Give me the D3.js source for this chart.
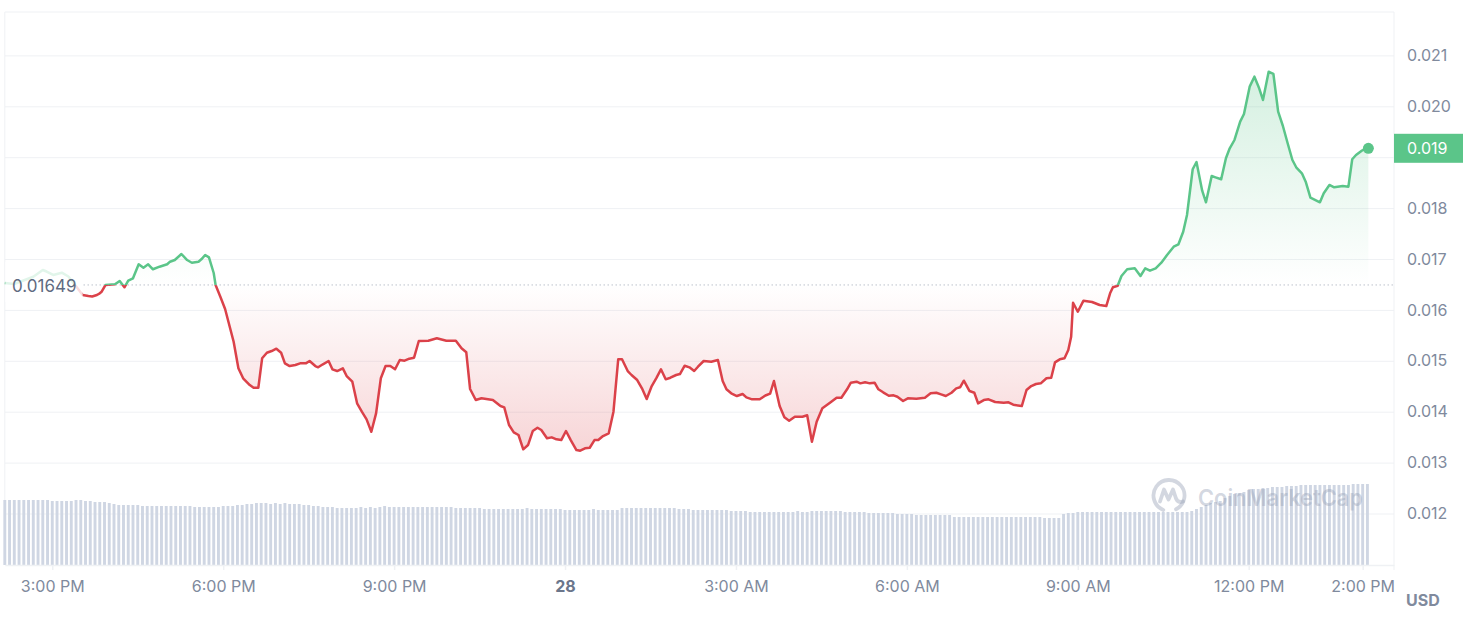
<!DOCTYPE html>
<html><head><meta charset="utf-8">
<script src="https://cdn.jsdelivr.net/npm/d3@7"></script>
<style>html,body{margin:0;padding:0;background:#fff;}svg{display:block;font-family:Inter,"Noto Sans",sans-serif;}</style>
</head><body><svg id="chart" width="1466" height="620"></svg>
<script>
// ---------- data ----------
const startTime = new Date(2024, 2, 27, 14, 10);
const priceMinutes = [0,10,21,30,40,44,51,60,67,74,82,88,92,97,100,102,106,116,121,126,130,135,141,146,151,156,163,171,174,179,186,192,197,204,207,211,215,220,222,227,232,241,246,251,258,262,267,271,276,281,286,291,295,300,306,311,317,321,327,330,335,341,345,350,356,360,366,371,376,381,386,391,396,401,406,411,416,421,426,431,436,446,455,465,475,481,486,490,496,502,514,522,526,531,536,541,546,551,556,561,565,571,576,581,586,591,596,602,606,611,616,621,625,630,636,641,646,650,656,660,666,671,676,681,686,691,696,701,707,711,716,721,726,730,736,744,751,756,760,765,771,777,781,787,795,801,806,810,816,821,826,832,840,845,850,855,861,869,876,881,887,891,897,901,906,911,916,920,925,931,936,940,946,951,960,969,975,981,986,991,997,1002,1006,1010,1016,1021,1025,1031,1036,1043,1052,1057,1062,1071,1076,1081,1086,1091,1097,1102,1106,1111,1116,1120,1123,1125,1130,1136,1145,1153,1160,1164,1167,1172,1176,1182,1190,1196,1201,1206,1212,1218,1224,1231,1236,1241,1245,1251,1255,1261,1265,1271,1275,1281,1286,1290,1295,1301,1305,1311,1316,1321,1325,1331,1336,1341,1346,1351,1356,1360,1366,1370,1375,1385,1389,1395,1400,1409,1415,1419,1423,1429,1436];
const prices = [
0.016528,0.016509,0.016587,0.016652,0.016784,0.016754,0.016686,0.016731,0.016656,0.016489,
0.016293,0.016273,0.016263,0.016293,0.016326,0.016357,0.016489,0.016503,0.016568,0.016444,
0.016574,0.016621,0.016896,0.016829,0.016896,0.016798,0.016849,0.016896,0.016947,0.016980,
0.017098,0.016980,0.016927,0.016947,0.016994,0.017079,0.017033,0.016725,0.016489,0.016259,
0.016018,0.015375,0.014852,0.014656,0.014524,0.014471,0.014471,0.015049,0.015159,0.015192,
0.015237,0.015159,0.014950,0.014897,0.014917,0.014950,0.014950,0.014996,0.014897,0.014872,
0.014931,0.014996,0.014833,0.014799,0.014852,0.014701,0.014589,0.014164,0.014000,0.013850,
0.013606,0.013968,0.014656,0.014897,0.014897,0.014833,0.015015,0.015002,0.015041,0.015061,
0.015389,0.015395,0.015442,0.015395,0.015395,0.015245,0.015167,0.014446,0.014229,0.014263,
0.014229,0.014111,0.014086,0.013738,0.013595,0.013542,0.013261,0.013345,0.013620,0.013685,
0.013640,0.013477,0.013496,0.013457,0.013443,0.013620,0.013443,0.013247,0.013233,0.013280,
0.013292,0.013443,0.013443,0.013522,0.013575,0.014000,0.015029,0.015029,0.014799,0.014721,
0.014622,0.014459,0.014249,0.014491,0.014656,0.014833,0.014636,0.014668,0.014721,0.014740,
0.014903,0.014872,0.014799,0.014884,0.014996,0.014982,0.015015,0.014603,0.014440,0.014361,
0.014308,0.014347,0.014282,0.014243,0.014243,0.014318,0.014357,0.014603,0.014111,0.013889,
0.013823,0.013901,0.013901,0.013929,0.013410,0.013803,0.014066,0.014176,0.014275,0.014275,
0.014440,0.014569,0.014589,0.014557,0.014577,0.014557,0.014569,0.014440,0.014381,0.014314,
0.014322,0.014294,0.014210,0.014263,0.014255,0.014275,0.014361,0.014373,0.014341,0.014308,
0.014373,0.014459,0.014479,0.014609,0.014406,0.014373,0.014164,0.014229,0.014243,0.014190,
0.014176,0.014184,0.014137,0.014111,0.014426,0.014504,0.014544,0.014557,0.014656,0.014668,
0.014970,0.015029,0.015049,0.015212,0.015473,0.016141,0.015964,0.016181,0.016155,0.016096,
0.016076,0.016326,0.016444,0.016475,0.016666,0.016798,0.016817,0.016666,0.016817,0.016770,
0.016817,0.016927,0.017079,0.017242,0.017289,0.017536,0.017865,0.018763,0.018906,0.018342,
0.018114,0.018631,0.018605,0.018566,0.018979,0.019175,0.019338,0.019698,0.019849,0.020386,
0.020582,0.020354,0.020124,0.020680,0.020635,0.019894,0.019613,0.019274,0.018945,0.018802,
0.018684,0.018519,0.018205,0.018114,0.018291,0.018454,0.018409,0.018434,0.018421,0.018959,
0.019044,0.019128,0.019175];
const volumeStepMinutes = 5;
const volumes = [
65,65,65,65,65,65,65,65,65,65, 64,64,64,64,64,65,65,64,64,63,
63,63,62,61,60,60,60,60,60,59, 59,59,59,59,59,59,59,59,59,59,
58,58,58,58,58,58,59,59,59,60, 60,61,61,62,62,62,61,62,61,62,
61,61,61,60,60,59,59,58,58,58, 57,57,57,57,57,58,57,58,57,58,
59,58,58,58,58,58,58,58,58,58, 58,58,58,58,58,57,57,57,57,57,
57,56,56,56,56,56,56,56,56,56, 57,56,56,56,56,56,56,56,55,55,
55,55,55,55,56,55,55,55,55,55, 57,57,57,57,57,57,57,57,57,57,
57,57,56,56,56,55,55,55,55,55, 55,55,55,54,54,54,54,53,53,53,
53,53,53,53,53,53,53,54,53,53, 54,54,54,54,54,54,54,53,53,53,
53,53,52,52,52,52,52,52,51,51, 51,51,50,50,50,50,50,50,50,50,
48,48,48,48,48,48,48,48,48,48, 48,48,48,48,48,48,48,48,48,47,
47,47,47,51,52,52,53,53,53,53, 53,53,53,53,53,53,53,53,53,53,
53,53,53,53,53,53,53,53,53,53, 54,56,58,60,62,63,64,67,69,71,
72,73,75,76,76,77,77,78,78,78, 79,79,79,80,80,80,80,80,80,80,
80,80,80,80,81,81,81,81];
const baselinePrice = 0.01649;
const baselineLabel = "0.01649";
const currentPriceLabel = "0.019";
const yTickValues = [0.012,0.013,0.014,0.015,0.016,0.017,0.018,0.019,0.020,0.021];
const xTickTimes = [new Date(2024,2,27,15),new Date(2024,2,27,18),new Date(2024,2,27,21),new Date(2024,2,28,0),new Date(2024,2,28,3),new Date(2024,2,28,6),new Date(2024,2,28,9),new Date(2024,2,28,12),new Date(2024,2,28,14)];
const xTickLabels = ["3:00 PM","6:00 PM","9:00 PM","28","3:00 AM","6:00 AM","9:00 AM","12:00 PM","2:00 PM"];
const fadedUntilMinute = 82;

// ---------- layout ----------
const L = 4.8, R = 1394, T = 12, B = 565;
const GREEN = "#5bc589", RED = "#db4149", GRID = "#eff1f4", TXT = "#808a9d";
const FONT = "Inter,'Noto Sans',sans-serif";
const svg = d3.select("#chart");
const defs = svg.append("defs");

const x = d3.scaleTime().domain([startTime, d3.timeMinute.offset(startTime, 1463)]).range([L, R]);
const y = d3.scaleLinear().domain([0.012, 0.021]).range([513.5, 55.4]);
const yVol = d3.scaleLinear().domain([0, 100]).range([B, B - 100]);

const priceData = priceMinutes.map((m, i) => ({t: d3.timeMinute.offset(startTime, m), v: prices[i]}));
const volData = volumes.map((v, i) => ({t: d3.timeMinute.offset(startTime, i * volumeStepMinutes), v}));
const baseY = y(baselinePrice);

svg.append("rect").attr("width", 1466).attr("height", 620).attr("fill", "#fff");

// grid lines via axis
svg.append("g").attr("transform", `translate(${R},0)`)
  .call(d3.axisLeft(y).tickValues(yTickValues).tickSize(R - L).tickFormat(""))
  .call(g => { g.select(".domain").remove(); g.selectAll("line").attr("stroke", GRID).attr("stroke-width", 1); });

// frame lines
svg.append("line").attr("x1", L).attr("x2", R).attr("y1", T).attr("y2", T).attr("stroke", GRID);
svg.append("line").attr("x1", L).attr("x2", L).attr("y1", T).attr("y2", B).attr("stroke", GRID);
svg.append("line").attr("x1", R).attr("x2", R).attr("y1", T).attr("y2", B + 5).attr("stroke", GRID);

// volume bars
svg.append("g").selectAll("rect").data(volData).join("rect")
  .attr("x", d => x(d.t) - 1.45).attr("width", 2.9)
  .attr("y", d => yVol(d.v)).attr("height", d => B - yVol(d.v))
  .attr("fill", "#cfd6e3");

// watermark
const wm = svg.append("g").attr("fill", "rgba(150,160,182,0.42)").attr("stroke", "rgba(150,160,182,0.42)");
const logo = wm.append("g").attr("transform", "translate(1169,495.5)");
logo.append("path").attr("fill", "none").attr("stroke-width", 3.8).attr("stroke-linecap", "round")
  .attr("d", (() => { const p = d3.path(); p.arc(0, 0, 15.5, Math.PI * 0.62, Math.PI * 2.35); return p.toString(); })());
logo.append("path").attr("fill", "none").attr("stroke-width", 3.8).attr("stroke-linecap", "round").attr("stroke-linejoin", "round")
  .attr("d", "M-9,6 L-5,-6 L-0.5,4 L4,-6 L7,3 Q9,8 14,6");
wm.append("text").attr("x", 1198).attr("y", 506).attr("stroke", "none")
  .attr("font-size", 23).attr("font-weight", 600).attr("textLength", 165).attr("lengthAdjust", "spacingAndGlyphs")
  .text("CoinMarketCap");

// gradients
const gG = defs.append("linearGradient").attr("id", "gGreen").attr("gradientUnits", "userSpaceOnUse")
  .attr("x1", 0).attr("x2", 0).attr("y1", y(d3.max(prices))).attr("y2", baseY);
gG.append("stop").attr("offset", 0).attr("stop-color", GREEN).attr("stop-opacity", 0.26);
gG.append("stop").attr("offset", 1).attr("stop-color", GREEN).attr("stop-opacity", 0);
const gR = defs.append("linearGradient").attr("id", "gRed").attr("gradientUnits", "userSpaceOnUse")
  .attr("x1", 0).attr("x2", 0).attr("y1", baseY).attr("y2", y(d3.min(prices)));
gR.append("stop").attr("offset", 0).attr("stop-color", RED).attr("stop-opacity", 0);
gR.append("stop").attr("offset", 1).attr("stop-color", RED).attr("stop-opacity", 0.22);

defs.append("clipPath").attr("id", "cUp").append("rect").attr("x", 0).attr("y", 0).attr("width", 1466).attr("height", baseY);
defs.append("clipPath").attr("id", "cDown").append("rect").attr("x", 0).attr("y", baseY).attr("width", 1466).attr("height", 620 - baseY);

const area = d3.area().x(d => x(d.t)).y0(baseY).y1(d => y(d.v));
const line = d3.line().x(d => x(d.t)).y(d => y(d.v));

svg.append("path").datum(priceData).attr("d", area).attr("fill", "url(#gGreen)").attr("clip-path", "url(#cUp)");
svg.append("path").datum(priceData).attr("d", area).attr("fill", "url(#gRed)").attr("clip-path", "url(#cDown)");
svg.append("path").datum(priceData).attr("d", line).attr("fill", "none").attr("stroke", GREEN)
  .attr("stroke-width", 2.5).attr("stroke-linejoin", "round").attr("clip-path", "url(#cUp)");
svg.append("path").datum(priceData).attr("d", line).attr("fill", "none").attr("stroke", RED)
  .attr("stroke-width", 2.5).attr("stroke-linejoin", "round").attr("clip-path", "url(#cDown)");

// faded start region
const fadeX = x(d3.timeMinute.offset(startTime, fadedUntilMinute));
svg.append("rect").attr("x", L + 0.5).attr("y", 262).attr("width", fadeX - L - 0.5).attr("height", 40)
  .attr("fill", "#fff").attr("opacity", 0.82);

// baseline
svg.append("line").attr("x1", fadeX + 1).attr("x2", R).attr("y1", baseY).attr("y2", baseY)
  .attr("stroke", "#9aa2b1").attr("stroke-width", 1).attr("stroke-dasharray", "1,3");
svg.append("text").attr("x", 12).attr("y", baseY + 1).attr("dy", "0.35em").attr("font-size", 17)
  .attr("font-family", FONT).attr("fill", "#5f6b81").text(baselineLabel);

// current price dot
const last = priceData[priceData.length - 1];
svg.append("circle").attr("cx", x(last.t)).attr("cy", y(last.v)).attr("r", 5.5).attr("fill", GREEN);

// y axis labels
const lastY = y(last.v);
svg.append("g").attr("transform", `translate(${R},0)`)
  .call(d3.axisRight(y).tickValues(yTickValues.filter(v => Math.abs(y(v) - lastY) > 14)).tickSize(0).tickPadding(13).tickFormat(d3.format(".3f")))
  .call(g => { g.select(".domain").remove(); g.selectAll("text").attr("font-size", 16).attr("fill", TXT).attr("font-family", FONT); });

// current price box
svg.append("rect").attr("x", R).attr("y", lastY - 14.5).attr("width", 69).attr("height", 29).attr("fill", GREEN);
svg.append("text").attr("x", R + 13).attr("y", lastY).attr("dy", "0.35em").attr("font-size", 16)
  .attr("font-family", FONT).attr("fill", "#fff").text(currentPriceLabel);

// x axis
svg.append("g").attr("transform", `translate(0,${B})`)
  .call(d3.axisBottom(x).tickValues(xTickTimes).tickSize(5).tickSizeOuter(0).tickPadding(11).tickFormat((d, i) => xTickLabels[i]))
  .call(g => {
    g.select(".domain").attr("stroke", GRID).attr("stroke-width", 1.5);
    g.selectAll(".tick line").attr("stroke", GRID).attr("stroke-width", 1.5);
    g.selectAll("text").attr("font-size", 16).attr("font-family", FONT)
      .attr("font-weight", (d, i) => xTickLabels[i] === "28" ? 700 : 400)
      .attr("fill", (d, i) => xTickLabels[i] === "28" ? "#6b768b" : TXT);
  });

svg.append("text").attr("x", 1406).attr("y", 606).attr("font-size", 16).attr("font-weight", 700)
  .attr("font-family", FONT).attr("fill", TXT).text("USD");

if (priceMinutes.length !== prices.length) {
  svg.append("text").attr("x", 300).attr("y", 40).attr("fill", "red").text("length mismatch " + priceMinutes.length + " vs " + prices.length);
}
</script></body></html>
